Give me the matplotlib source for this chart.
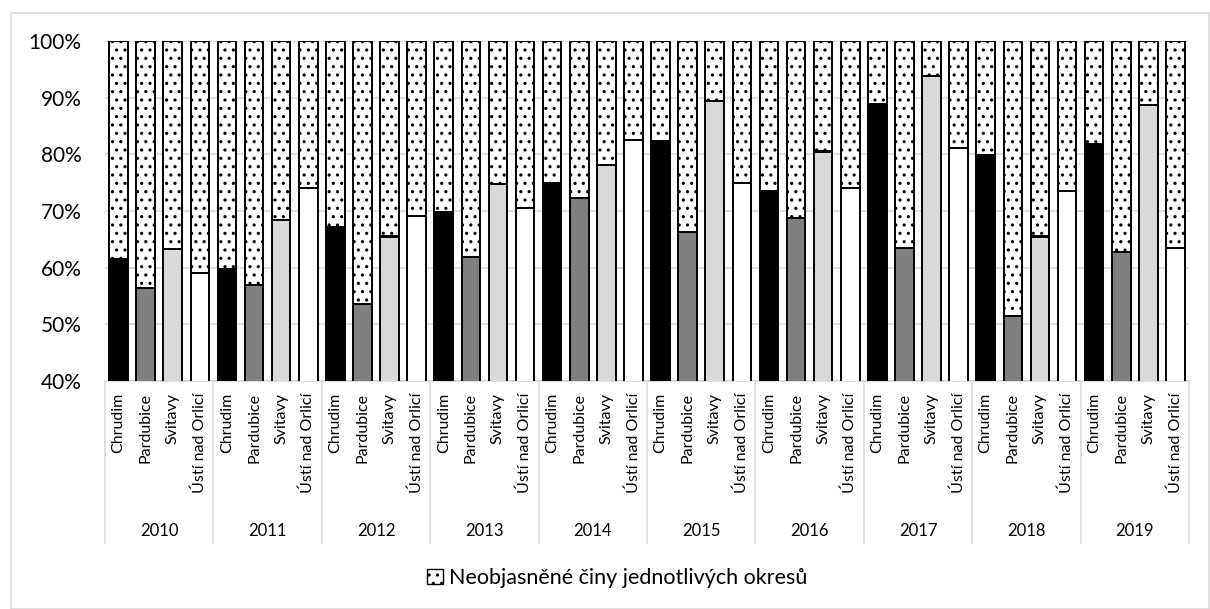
import numpy as np
import matplotlib
matplotlib.use("Agg")
import matplotlib.pyplot as plt
from matplotlib.patches import Patch, Rectangle
from matplotlib.lines import Line2D
import matplotlib.transforms as mtransforms

plt.rcParams['font.family'] = ['Lato', 'DejaVu Sans']
plt.rcParams['hatch.linewidth'] = 1.1

years = ['2010', '2011', '2012', '2013', '2014', '2015', '2016', '2017', '2018', '2019']
districts = ['Chrudim', 'Pardubice', 'Svitavy', 'Ústí nad Orlicí']
district_colors = ['#000000', '#7f7f7f', '#d9d9d9', '#ffffff']

# share of cleared-up offences per district and year (%)
chrudim = [61.5, 59.8, 67.1, 69.9, 75.0, 82.4, 73.6, 88.9, 79.8, 81.8]
pardubice = [56.5, 57.0, 53.6, 61.9, 72.3, 66.3, 68.7, 63.5, 51.4, 62.7]
svitavy = [63.3, 68.4, 65.5, 74.7, 78.1, 89.4, 80.5, 93.8, 65.5, 88.7]
usti = [59.0, 74.1, 69.2, 70.6, 82.5, 74.9, 74.1, 81.1, 73.5, 63.5]
legend_label = 'Neobjasněné činy jednotlivých okresů'

series = [chrudim, pardubice, svitavy, usti]

fig = plt.figure(figsize=(12.1, 6.09), dpi=100)
ax = fig.add_axes([105 / 1210, 1 - 381 / 609, (1189 - 105) / 1210, 340 / 609])

n_years = len(years)
n_d = len(districts)
width = 0.69
for d in range(n_d):
    x = np.arange(n_years) * n_d + d
    vals = np.array(series[d]) / 100
    ax.bar(x, vals, width, color=district_colors[d], edgecolor='black', linewidth=1.4, zorder=3)
    ax.bar(x, 1 - vals, width, bottom=vals, color='white', edgecolor='black',
           linewidth=1.4, hatch='..', zorder=3)

ax.set_xlim(-0.5, n_years * n_d - 0.5)
ax.set_ylim(0.4, 1.0)
ax.set_yticks(np.arange(0.4, 1.01, 0.1))
ax.set_yticklabels([f'{int(round(v * 100))}%' for v in np.arange(0.4, 1.01, 0.1)], fontsize=15)
ax.yaxis.grid(True, color='#d9d9d9', linewidth=1.2, zorder=0)
ax.tick_params(axis='y', length=0, pad=17)
ax.set_xticks([])
for s in ['left', 'right', 'top']:
    ax.spines[s].set_visible(False)
ax.spines['bottom'].set_color('#d9d9d9')
ax.spines['bottom'].set_linewidth(1.2)

# multi-level category axis
trans = mtransforms.blended_transform_factory(ax.transData, ax.transAxes)
for i in range(n_years):
    for d in range(n_d):
        ax.text(i * n_d + d, -0.035, districts[d], rotation=90, ha='center', va='top',
                fontsize=11.5, transform=trans)
    ax.text(i * n_d + 1.5, -0.441, years[i], ha='center', va='center', fontsize=12,
            transform=trans)
for i in range(n_years + 1):
    xs = i * n_d - 0.5
    ax.add_line(Line2D([xs, xs], [0, -0.476], color='#d9d9d9', linewidth=1.2,
                       transform=trans, clip_on=False))

handle = Patch(facecolor='white', edgecolor='black', hatch='..', linewidth=1.0)
fig.legend([handle], [legend_label], loc='center', bbox_to_anchor=(0.51, 1 - 578 / 609),
           frameon=False, fontsize=15.5, handlelength=0.75, handleheight=0.75,
           handletextpad=0.3)

fig.patches.append(Rectangle((11.5 / 1210, 0.5 / 609), 1197 / 1210, 596 / 609,
                             transform=fig.transFigure, fill=False,
                             edgecolor='#d9d9d9', linewidth=1.2))

fig.savefig('out.png', dpi=100)
